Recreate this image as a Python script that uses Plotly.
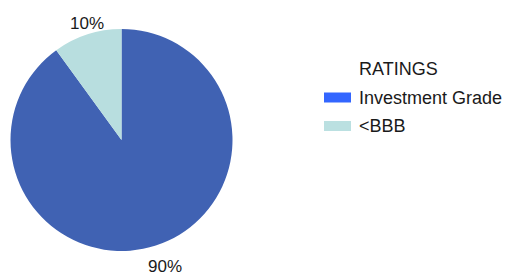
import math
import plotly.graph_objects as go

labels = ["Investment Grade", "<BBB"]
values = [90, 10]
slice_colors = ["#4062B3", "#B8DEDF"]
legend_colors = ["#3366FF", "#BBE0E1"]
legend_title = "RATINGS"

W, H = 507, 274
# pie geometry (pixels)
CX, CY, R = 121.5, 140.0, 111.0
label_radius = [1.195, 1.10]

fig = go.Figure()
fig.add_trace(go.Pie(
    labels=labels,
    values=values,
    sort=False,
    direction="clockwise",
    rotation=0,
    marker=dict(colors=slice_colors, line=dict(width=0)),
    textinfo="none",
    domain=dict(x=[(CX - R) / W, (CX + R) / W], y=[(H - CY - R) / H, (H - CY + R) / H]),
    showlegend=False,
    hoverinfo="label+percent",
))

font = dict(family="Liberation Sans, Arial, sans-serif", size=18, color="#1a1a1a")
annotations = []

# percentage labels outside the slices, at each slice's mid-angle
total = sum(values)
start = 0.0
for v, k in zip(values, label_radius):
    frac = v / total
    mid = (start + frac / 2) * 2 * math.pi  # clockwise from 12 o'clock
    start += frac
    px = CX + math.sin(mid) * R * k + 3
    py = CY - math.cos(mid) * R * k
    annotations.append(dict(
        x=px / W, y=1 - py / H, xref="paper", yref="paper",
        xanchor="center", yanchor="middle",
        text=f"{round(frac * 100)}%", showarrow=False,
        font=dict(family="Liberation Sans, Arial, sans-serif", size=17, color="#1a1a1a"),
    ))

shapes = []
annotations.append(dict(
    x=357 / W, y=1 - 69 / H, xref="paper", yref="paper", xanchor="left", yanchor="middle",
    text=legend_title, showarrow=False, font=font,
))
row_y = [97.5, 126]
for lab, col, yy in zip(labels, legend_colors, row_y):
    shapes.append(dict(
        type="rect", xref="paper", yref="paper",
        x0=324 / W, x1=351 / W, y0=1 - (yy + 5) / H, y1=1 - (yy - 5) / H,
        fillcolor=col, line=dict(width=0),
    ))
    annotations.append(dict(
        x=357 / W, y=1 - yy / H, xref="paper", yref="paper", xanchor="left", yanchor="middle",
        text=lab, showarrow=False, font=font,
    ))

fig.update_layout(
    width=W, height=H,
    margin=dict(l=0, r=0, t=0, b=0),
    paper_bgcolor="white",
    plot_bgcolor="white",
    shapes=shapes,
    annotations=annotations,
    showlegend=False,
)

fig.write_html(
    "out.html",
    config={"displayModeBar": False},
    post_script="document.body.style.margin='0';document.body.style.overflow='hidden';",
)
